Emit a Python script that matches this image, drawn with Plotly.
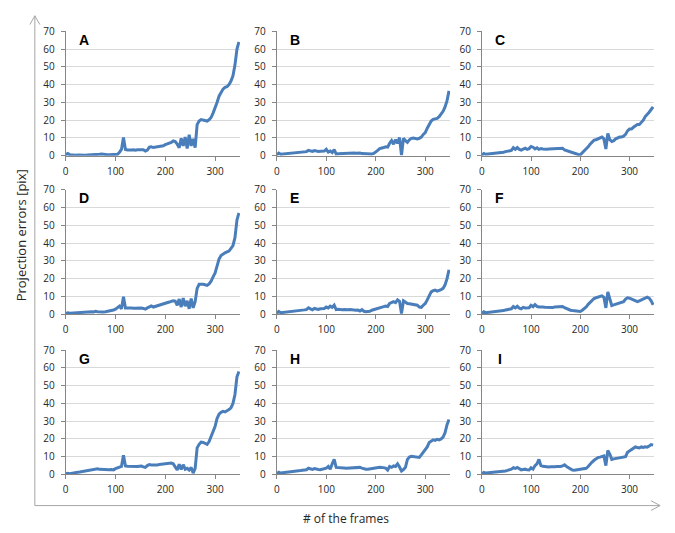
import plotly.graph_objects as go

# frame indices (every 4th frame)
frames = list(range(0, 349, 4))

panel_labels = ["A", "B", "C", "D", "E", "F", "G", "H", "I"]

A = [0.5, 1.2, 0.6, 0.4, 0.3, 0.3, 0.4, 0.3, 0.3, 0.4,
     0.3, 0.4, 0.4, 0.5, 0.5, 0.6, 0.7, 0.8, 1.0, 0.7,
     0.6, 0.5, 0.5, 0.6, 0.5, 0.6, 0.8, 2.0, 3.5, 10.2,
     3.5, 3.2, 3.0, 3.2, 3.3, 3.1, 3.4, 3.5, 3.2, 3.3,
     2.6, 3.2, 4.8, 5.0, 4.6, 4.8, 5.2, 5.0, 5.3, 5.6,
     6.2, 6.5, 7.0, 7.5, 8.3, 8.0, 6.5, 4.5, 9.8, 5.5,
     10.5, 4.0, 11.8, 5.5, 9.5, 4.5, 17.5, 19.5, 20.3, 20.0,
     19.8, 19.5, 20.2, 21.5, 24.0, 26.5, 30.0, 33.5, 36.0, 37.5,
     38.5, 38.8, 40.0, 42.0, 45.0, 51.0, 60.0, 64.0]

B = [0.5, 1.5, 0.8, 0.9, 1.0, 1.0, 1.1, 1.2, 1.3, 1.5,
     1.6, 1.8, 2.0, 1.9, 2.2, 2.3, 3.0, 2.6, 2.4, 2.9,
     2.6, 2.4, 2.5, 2.7, 2.6, 3.6, 2.0, 2.6, 1.8, 3.5,
     1.0, 1.1, 1.2, 1.2, 1.3, 1.4, 1.3, 1.5, 1.6, 1.5,
     1.4, 1.6, 1.5, 1.2, 1.1, 1.0, 1.0, 0.9, 1.0, 1.3,
     2.0, 3.0, 4.0, 4.5, 4.6, 5.0, 4.8, 7.0, 8.5, 6.5,
     9.0, 7.0, 10.2, 0.3, 9.8, 8.5, 7.5, 9.0, 9.8, 10.0,
     9.8, 9.5, 9.8, 10.5, 12.0, 13.0, 15.5, 18.0, 19.5, 20.5,
     20.8, 21.0, 22.0, 23.5, 25.0, 27.5, 31.0, 36.5]

C = [0.3, 1.3, 0.8, 0.9, 1.0, 1.1, 1.2, 1.3, 1.5, 1.6,
     1.8, 2.0, 2.3, 2.5, 2.6, 3.0, 4.5, 3.6, 4.6, 3.6,
     3.2, 3.8, 4.2, 3.6, 4.0, 5.2, 4.8, 3.8, 4.5, 3.6,
     4.0, 3.8, 3.6, 3.7, 3.8, 3.9, 3.8, 4.0, 4.0, 3.9,
     4.1, 4.2, 3.2, 2.8, 2.3, 2.0, 1.6, 1.4, 1.0, 0.7,
     0.5, 1.5, 2.5, 3.5, 5.0, 6.5, 8.0, 8.8, 9.0, 9.5,
     10.0, 10.5, 9.5, 3.8, 12.5, 9.0, 8.0, 8.5, 9.5, 10.0,
     10.5, 10.5, 11.0, 12.0, 14.0, 15.0, 15.0, 16.0, 17.0, 17.5,
     17.5, 18.5, 20.0, 22.0, 23.0, 24.5, 26.0, 27.5]

D = [0.3, 0.8, 0.5, 0.6, 0.7, 0.8, 0.9, 0.9, 1.0, 1.1,
     1.2, 1.3, 1.4, 1.3, 1.2, 1.6, 1.4, 1.2, 1.1, 1.2,
     1.3, 1.5, 1.7, 2.0, 2.3, 2.8, 3.5, 4.5, 3.0, 9.8,
     3.5, 3.6, 3.4, 3.5, 3.3, 3.4, 3.2, 3.3, 3.4, 3.2,
     2.8, 3.5, 4.2, 4.6, 4.0, 4.3, 4.6, 5.0, 5.4, 5.8,
     6.0, 6.3, 6.8, 7.2, 7.5, 7.3, 5.0, 8.5, 4.0, 9.0,
     4.5, 7.5, 3.0, 8.8, 3.5, 7.0, 14.5, 16.8, 17.0, 16.8,
     16.5, 16.2, 17.0, 18.5, 21.0, 23.0, 27.0, 31.0, 33.0, 34.0,
     34.5, 35.0, 35.5, 37.0, 38.5, 43.0, 53.0, 57.0]

E = [0.4, 1.5, 0.8, 0.9, 1.0, 1.1, 1.2, 1.3, 1.4, 1.6,
     1.8, 2.0, 2.2, 2.1, 2.4, 2.6, 3.6, 3.0, 2.5, 3.2,
     2.8, 2.6, 3.0, 2.9, 3.2, 4.0, 3.5, 4.5, 3.8, 5.0,
     2.5, 2.7, 2.4, 2.5, 2.6, 2.4, 2.5, 2.6, 2.4, 2.5,
     2.2, 2.3, 1.8, 2.5, 1.6, 1.4, 1.5, 1.6, 2.2, 2.6,
     3.0, 3.2, 3.6, 3.8, 4.2, 4.5, 4.3, 6.0, 6.5, 7.0,
     6.5, 8.0, 7.2, 0.3, 7.5, 6.8, 6.0, 5.8, 5.6, 5.5,
     5.4, 5.0, 4.0, 3.8, 5.0, 6.0, 8.0, 10.5, 12.5, 13.2,
     13.5, 13.0, 13.2, 13.8, 14.5, 16.5, 20.0, 25.0]

F = [0.3, 1.3, 0.8, 0.9, 1.0, 1.1, 1.2, 1.3, 1.5, 1.6,
     1.8, 2.0, 2.3, 2.5, 2.6, 3.0, 4.3, 3.5, 4.4, 3.4,
     3.0, 3.8, 3.5, 3.4, 3.6, 5.0, 4.2, 5.4, 4.4, 4.0,
     4.2, 4.0, 3.9, 3.8, 3.8, 3.9, 3.8, 4.0, 4.1, 4.0,
     4.1, 4.3, 3.6, 3.0, 2.6, 2.2, 2.0, 1.9, 1.8, 1.6,
     1.5, 2.2, 3.0, 4.0, 5.5, 6.8, 8.0, 8.8, 9.2, 9.6,
     10.0, 10.3, 9.5, 3.5, 12.5, 8.0, 4.8, 5.2, 5.5, 5.8,
     6.0, 6.5, 7.0, 8.5, 9.2, 9.0, 8.5, 8.0, 7.2, 7.0,
     7.5, 8.0, 8.8, 9.3, 9.5, 9.0, 7.5, 5.2]

G = [0.3, 0.7, 0.5, 0.8, 1.0, 1.2, 1.3, 1.4, 1.6, 1.8,
     2.0, 2.2, 2.3, 2.5, 2.6, 2.8, 3.2, 2.9, 2.8, 2.7,
     2.6, 2.5, 2.7, 2.8, 2.6, 3.3, 3.8, 4.0, 4.5, 10.8,
     4.8, 4.6, 4.5, 4.6, 4.5, 4.4, 4.5, 4.6, 4.7, 4.3,
     4.0, 5.0, 5.6, 5.4, 5.3, 5.5, 5.4, 5.6, 5.8, 6.0,
     6.2, 6.3, 6.6, 6.4, 6.0, 4.5, 2.5, 5.8, 2.8, 5.5,
     3.0, 3.5, 2.5, 4.0, 0.8, 3.5, 15.0, 17.0, 18.2, 18.0,
     17.5, 17.0, 18.5, 21.5, 23.5, 27.0, 31.5, 34.0, 35.0, 35.5,
     35.2, 35.8, 36.5, 37.5, 40.0, 45.0, 55.0, 58.0]

H = [0.4, 1.3, 0.8, 0.9, 1.0, 1.1, 1.2, 1.3, 1.5, 1.6,
     1.8, 2.0, 2.2, 2.4, 2.5, 2.7, 3.5, 3.0, 2.8, 3.3,
     2.9, 2.8, 2.7, 3.0, 2.9, 3.6, 4.5, 3.0, 6.0, 8.5,
     4.0, 3.8, 3.6, 3.7, 3.6, 3.5, 3.6, 3.7, 3.5, 3.6,
     3.8, 3.9, 4.0, 3.6, 3.2, 3.0, 3.0, 3.2, 3.5, 3.8,
     3.9, 4.0, 4.1, 4.0, 3.8, 3.6, 2.5, 4.5, 4.0, 4.8,
     4.5, 6.0, 4.2, 2.0, 2.8, 4.0, 8.5, 9.8, 10.2, 10.0,
     9.8, 9.5, 9.6, 11.0, 12.5, 13.5, 15.5, 18.0, 19.0, 19.5,
     19.2, 19.8, 19.5, 20.0, 21.0, 23.5, 28.0, 31.0]

I = [0.3, 1.2, 0.8, 0.9, 1.0, 1.0, 1.1, 1.2, 1.3, 1.5,
     1.6, 1.8, 2.0, 2.3, 2.5, 3.0, 3.8, 3.4, 4.0, 3.2,
     2.6, 2.8, 3.0, 2.6, 2.5, 3.8, 3.0, 5.0, 6.0, 8.5,
     5.0, 4.6, 4.4, 4.3, 4.2, 4.3, 4.2, 4.4, 4.5, 4.4,
     4.5, 4.8, 5.4, 4.5, 3.8, 3.0, 2.5, 2.4, 2.6, 2.8,
     3.0, 2.9, 3.0, 3.5, 4.5, 6.0, 7.0, 8.0, 8.8, 9.5,
     9.8, 10.2, 10.5, 5.0, 13.5, 11.5, 8.5, 8.8, 9.0, 9.2,
     9.5, 9.5, 9.8, 10.0, 12.5, 13.2, 13.8, 14.5, 15.5, 15.2,
     15.0, 15.5, 15.2, 15.6, 15.4, 16.0, 16.8, 16.5]

series = [A, B, C, D, E, F, G, H, I]

y_ticks = [0, 10, 20, 30, 40, 50, 60, 70]
x_ticks = [0, 100, 200, 300]

W, Hh = 675, 533
col_px = [(63, 238), (275, 449), (481, 654)]
row_px = [(24, 152), (187, 315), (352, 480)]

LINE = "#4a7ebb"
AX = "#868686"
GRID = "#d9d9d9"
TXT = "#262626"
FONT = "Open Sans"

fig = go.Figure()
layout = dict(
    width=W, height=Hh,
    margin=dict(l=0, r=0, t=0, b=0),
    paper_bgcolor="white", plot_bgcolor="white",
    showlegend=False,
    font=dict(family=FONT, size=10, color=TXT),
)
annotations = []
for k, (lab, ys) in enumerate(zip(panel_labels, series)):
    r, c = divmod(k, 3)
    n = "" if k == 0 else str(k + 1)
    fig.add_trace(go.Scatter(
        x=frames, y=ys, mode="lines",
        line=dict(color=LINE, width=3),
        xaxis="x" + n, yaxis="y" + n, cliponaxis=False,
    ))
    x0, x1 = col_px[c]
    t, b = row_px[r]
    layout["xaxis" + n] = dict(
        domain=[x0 / W, x1 / W], range=[0, 350], anchor="y" + n,
        tickvals=x_ticks, showgrid=False, zeroline=False,
        showline=True, linecolor=AX, linewidth=1,
        ticks="outside", ticklen=4, tickcolor=AX,
        tickfont=dict(family=FONT, size=10, color=TXT),
        ticklabelstandoff=2, fixedrange=True,
    )
    layout["yaxis" + n] = dict(
        domain=[1 - b / Hh, 1 - t / Hh], range=[0, 70], anchor="x" + n,
        tickvals=y_ticks, showgrid=True, gridcolor=GRID, gridwidth=1,
        zeroline=False, showline=True, linecolor=AX, linewidth=1,
        ticks="outside", ticklen=4, tickcolor=AX,
        tickfont=dict(family=FONT, size=10, color=TXT),
        ticklabelstandoff=4, fixedrange=True,
    )
    annotations.append(dict(
        text="<b>" + lab + "</b>", x=0.105, y=0.93,
        xref=("x" + n + " domain"), yref=("y" + n + " domain"),
        showarrow=False, xanchor="center", yanchor="middle",
        font=dict(family="Liberation Sans", size=14, color="#000000"),
    ))

annotations.append(dict(
    text="Projection errors [pix]", x=18 / W, y=1 - 234 / Hh,
    xref="paper", yref="paper", showarrow=False, textangle=-90,
    xanchor="center", yanchor="middle",
    font=dict(family=FONT, size=13, color=TXT),
))
annotations.append(dict(
    text="# of the frames", x=345 / W, y=1 - 525 / Hh,
    xref="paper", yref="paper", showarrow=False,
    xanchor="center", yanchor="middle",
    font=dict(family=FONT, size=12, color=TXT),
))
layout["annotations"] = annotations


def seg(xa, ya, xb, yb):
    return dict(type="line", xref="paper", yref="paper",
                x0=xa / W, y0=1 - ya / Hh, x1=xb / W, y1=1 - yb / Hh,
                line=dict(color="#a6a6a6", width=1))


layout["shapes"] = [
    seg(32, 512, 32, 8), seg(27, 17, 32, 8), seg(37, 17, 32, 8),
    seg(32, 512, 660, 512), seg(651, 507, 660, 512), seg(651, 517, 660, 512),
]

fig.update_layout(**layout)
fig.write_html(
    "out.html",
    config={"displayModeBar": False, "staticPlot": True},
    post_script="document.body.style.margin='0';document.body.style.overflow='hidden';",
)
